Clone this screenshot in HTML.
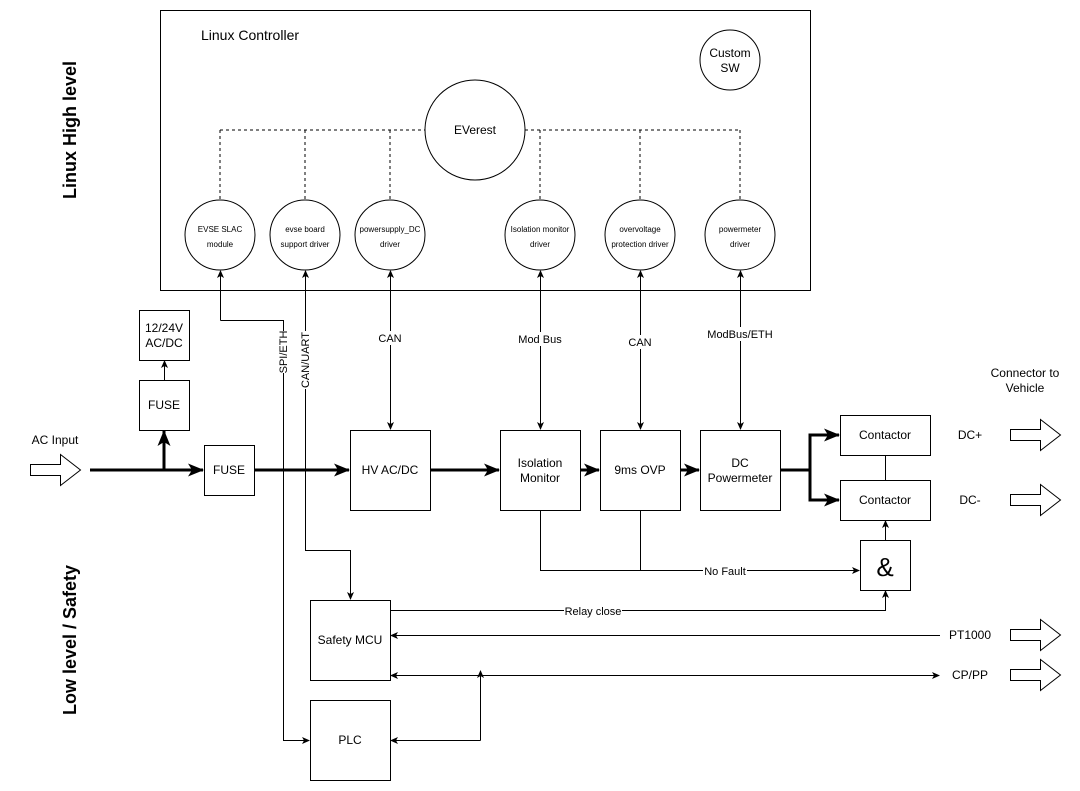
<!DOCTYPE html>
<html><head><style>body{margin:0;background:#fff}svg{display:block}text{font-family:"Liberation Sans",Arial,sans-serif;fill:#000}</style></head>
<body>
<svg width="1080" height="791" viewBox="0 0 1080 791" xmlns="http://www.w3.org/2000/svg">
<defs>
<marker id="a" markerWidth="8" markerHeight="8" refX="7" refY="4" orient="auto" markerUnits="userSpaceOnUse"><path d="M0,0.5 L8,4 L0,7.5 L2,4z" fill="#000"/></marker>
<marker id="s" markerWidth="8" markerHeight="8" refX="1" refY="4" orient="auto" markerUnits="userSpaceOnUse"><path d="M8,0.5 L0,4 L8,7.5 L6,4z" fill="#000"/></marker>
<marker id="A" markerWidth="16" markerHeight="16" refX="15" refY="8" orient="auto" markerUnits="userSpaceOnUse"><path d="M0,1.5 L16,8 L0,14.5 L4,8z" fill="#000"/></marker>
</defs>
<g fill="none" stroke="#000" stroke-width="1">
<rect x="160.5" y="10.5" width="650" height="280"/>
<circle cx="730" cy="60" r="30"/>
<circle cx="475" cy="130" r="50"/>
<g stroke-dasharray="3,3"><path d="M220,130H425M525,130H740M220,130V200M305,130V200M390,130V200M540,130V200M640,130V200M740,130V200"/></g>
<circle cx="220" cy="235" r="35"/><circle cx="305" cy="235" r="35"/><circle cx="390" cy="235" r="35"/>
<circle cx="540" cy="235" r="35"/><circle cx="640" cy="235" r="35"/><circle cx="740" cy="235" r="35"/>
<rect x="139.5" y="310.5" width="50" height="50"/><rect x="139.5" y="380.5" width="50" height="50"/>
<rect x="204.5" y="445.5" width="50" height="50"/>
<rect x="350.5" y="430.5" width="80" height="80"/><rect x="500.5" y="430.5" width="80" height="80"/>
<rect x="600.5" y="430.5" width="80" height="80"/><rect x="700.5" y="430.5" width="80" height="80"/>
<rect x="840.5" y="415.5" width="90" height="40"/><rect x="840.5" y="480.5" width="90" height="40"/>
<rect x="860.5" y="540.5" width="50" height="50"/>
<rect x="310.5" y="600.5" width="80" height="80"/><rect x="310.5" y="700.5" width="80" height="80"/>
<path d="M220.5,320.5H283.5V740.5H309" marker-end="url(#a)"/>
<path d="M220.5,320.5V271" marker-end="url(#a)"/>
<path d="M305.5,271V550.5H350.5V599" marker-start="url(#s)" marker-end="url(#a)"/>
<path d="M390.5,271V429" marker-start="url(#s)" marker-end="url(#a)"/>
<path d="M540.5,271V429" marker-start="url(#s)" marker-end="url(#a)"/>
<path d="M640.5,271V429" marker-start="url(#s)" marker-end="url(#a)"/>
<path d="M740.5,271V429" marker-start="url(#s)" marker-end="url(#a)"/>
<path d="M164.5,380V361" marker-end="url(#a)"/>
<path d="M885.5,455V480"/>
<path d="M885.5,540V521" marker-end="url(#a)"/>
<path d="M540.5,510V570.5H859" marker-end="url(#a)"/>
<path d="M640.5,510V570.5"/>
<path d="M390,610.5H885.5V591" marker-end="url(#a)"/>
<path d="M940,635.5H391" marker-end="url(#a)"/>
<path d="M391,675.5H939" marker-start="url(#s)" marker-end="url(#a)"/>
<path d="M480.5,740.5V671" marker-end="url(#a)"/>
<path d="M480.5,740.5H391" marker-end="url(#a)"/>
</g>
<g fill="none" stroke="#000" stroke-width="3">
<path d="M90,470H203" marker-end="url(#A)"/>
<path d="M164,470V431" marker-end="url(#A)"/>
<path d="M255,470H349" marker-end="url(#A)"/>
<path d="M430,470H499" marker-end="url(#A)"/>
<path d="M580,470H599" marker-end="url(#A)"/>
<path d="M680,470H699" marker-end="url(#A)"/>
<path d="M780,470H810V435H839" marker-end="url(#A)"/>
<path d="M810,470V500H839" marker-end="url(#A)"/>
</g>
<g fill="#fff" stroke="#000">
<path d="M30.5,464.5H60.5V454.5L80.5,470L60.5,485.5V475.5H30.5z"/>
<path d="M1010.5,429.5H1040.5V419.5L1060.5,435L1040.5,450.5V440.5H1010.5z"/>
<path d="M1010.5,494.5H1040.5V484.5L1060.5,500L1040.5,515.5V505.5H1010.5z"/>
<path d="M1010.5,629.5H1040.5V619.5L1060.5,635L1040.5,650.5V640.5H1010.5z"/>
<path d="M1010.5,669.5H1040.5V659.5L1060.5,675L1040.5,690.5V680.5H1010.5z"/>
</g>
<g font-size="8" text-anchor="middle">
<text x="220" y="232">EVSE SLAC</text><text x="220" y="247">module</text>
<text x="305" y="232">evse board</text><text x="305" y="247">support driver</text>
<text x="390" y="232">powersupply_DC</text><text x="390" y="247">driver</text>
<text x="540" y="232">Isolation monitor</text><text x="540" y="247">driver</text>
<text x="640" y="232">overvoltage</text><text x="640" y="247">protection driver</text>
<text x="740" y="232">powermeter</text><text x="740" y="247">driver</text>
</g>
<g font-size="12" text-anchor="middle">
<text x="250" y="40" font-size="14">Linux Controller</text>
<text x="730" y="57">Custom</text><text x="730" y="72">SW</text>
<text x="475" y="134">EVerest</text>
<text x="164" y="332">12/24V</text><text x="164" y="347">AC/DC</text>
<text x="164" y="409">FUSE</text><text x="229" y="474">FUSE</text>
<text x="390" y="474">HV AC/DC</text>
<text x="540" y="467">Isolation</text><text x="540" y="482">Monitor</text>
<text x="640" y="474">9ms OVP</text>
<text x="740" y="467">DC</text><text x="740" y="482">Powermeter</text>
<text x="885" y="439">Contactor</text><text x="885" y="504">Contactor</text>
<text x="885" y="576" font-size="26">&amp;</text>
<text x="350" y="644">Safety MCU</text><text x="350" y="744">PLC</text>
<text x="55" y="444">AC Input</text>
<text x="970" y="439">DC+</text><text x="970" y="504">DC-</text>
<text x="970" y="639">PT1000</text><text x="970" y="679">CP/PP</text>
<text x="1025" y="377">Connector to</text><text x="1025" y="392">Vehicle</text>
</g>
<g font-size="11" text-anchor="middle">
<rect x="376" y="331" width="28" height="14" fill="#fff"/><text x="390" y="342">CAN</text>
<rect x="516" y="332" width="48" height="14" fill="#fff"/><text x="540" y="343">Mod Bus</text>
<rect x="626" y="335" width="28" height="14" fill="#fff"/><text x="640" y="346">CAN</text>
<rect x="705" y="327" width="70" height="14" fill="#fff"/><text x="740" y="338">ModBus/ETH</text>
<rect x="703" y="564" width="44" height="14" fill="#fff"/><text x="725" y="575">No Fault</text>
<rect x="564" y="604" width="58" height="14" fill="#fff"/><text x="593" y="615">Relay close</text>
<g transform="translate(283,352) rotate(-90)"><rect x="-21" y="-7" width="42" height="14" fill="#fff"/><text x="0" y="4">SPI/ETH</text></g>
<g transform="translate(305,360) rotate(-90)"><rect x="-29" y="-7" width="58" height="14" fill="#fff"/><text x="0" y="4">CAN/UART</text></g>
</g>
<g font-size="18" font-weight="bold" text-anchor="middle">
<text transform="translate(76,130) rotate(-90)">Linux High level</text>
<text transform="translate(76,640) rotate(-90)">Low level / Safety</text>
</g>
</svg>
</body></html>
